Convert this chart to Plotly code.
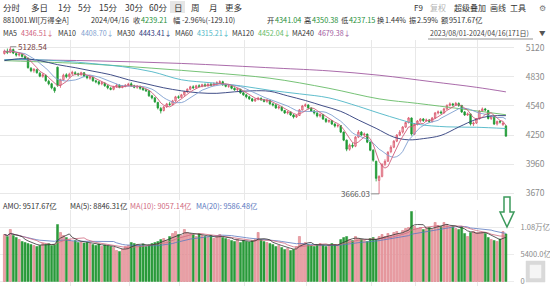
import plotly.graph_objects as go
import pandas as pd

W, H = 550, 286
FONT = "Noto Sans CJK SC"

# ---------------- data ----------------
opens = [
    # Aug 2023
    5060, 5085, 5070, 5100, 5060, 5045, 5050, 5030, 5015, 4915, 4890, 4900, 4865, 4835, 4845, 4785, 4760, 4720, 4925, 4745, 4800, 4850, 4830,
    # Sep
    4860, 4870, 4860, 4850, 4870, 4835, 4815, 4825, 4790, 4780, 4760, 4765, 4740, 4715, 4705, 4730, 4745, 4725, 4735, 4745,
    # Oct
    4760, 4740, 4725, 4735, 4715, 4700, 4690, 4640, 4620, 4575, 4515, 4495, 4530, 4560, 4555, 4590, 4630,
    # Nov
    4625, 4650, 4680, 4705, 4730, 4720, 4740, 4735, 4750, 4740, 4755, 4745, 4760, 4770, 4780, 4750, 4735, 4740, 4715, 4700, 4705, 4670,
    # Dec
    4650, 4630, 4610, 4590, 4605, 4615, 4600, 4585, 4595, 4560, 4550, 4520, 4530, 4495, 4470, 4480, 4450, 4430, 4445, 4500, 4540,
    # Jan 2024
    4550, 4520, 4490, 4470, 4440, 4455, 4410, 4385, 4395, 4360, 4340, 4345, 4280, 4200, 4110, 4150, 4140, 4230, 4280, 4250, 4260, 4180,
    # Feb
    4100, 3990, 3800, 3840, 3960, 3990, 4085, 4130, 4190, 4250, 4280, 4330, 4375, 4420, 4260,
    # Mar
    4360, 4390, 4410, 4395, 4400, 4385, 4420, 4470, 4480, 4470, 4510, 4545, 4560, 4550, 4565, 4545, 4480, 4450, 4460, 4360, 4370,
    # Apr
    4410, 4490, 4510, 4495, 4415, 4440, 4360, 4385, 4355, 4341.04,
]
closes = [
    5085, 5070, 5105, 5065, 5045, 5055, 5030, 5015, 4920, 4890, 4905, 4870, 4835, 4850, 4790, 4760, 4720, 4690, 4745, 4800, 4845, 4830, 4855,
    4875, 4860, 4850, 4870, 4835, 4820, 4830, 4790, 4780, 4760, 4770, 4740, 4720, 4705, 4730, 4745, 4725, 4735, 4745, 4755,
    4740, 4725, 4735, 4715, 4700, 4690, 4640, 4620, 4580, 4520, 4490, 4530, 4560, 4555, 4590, 4630, 4625,
    4650, 4680, 4705, 4730, 4720, 4740, 4735, 4750, 4740, 4755, 4745, 4760, 4770, 4780, 4750, 4735, 4740, 4715, 4700, 4710, 4670, 4650,
    4630, 4610, 4590, 4605, 4615, 4600, 4585, 4595, 4560, 4550, 4520, 4530, 4495, 4470, 4480, 4450, 4430, 4445, 4500, 4540, 4550,
    4520, 4490, 4470, 4440, 4455, 4410, 4385, 4395, 4360, 4340, 4345, 4280, 4200, 4110, 4150, 4140, 4230, 4280, 4250, 4260, 4180, 4100,
    4000, 3820, 3840, 3960, 3990, 4080, 4130, 4190, 4250, 4280, 4330, 4375, 4420, 4260, 4360,
    4390, 4410, 4395, 4400, 4385, 4420, 4470, 4480, 4470, 4510, 4545, 4560, 4550, 4565, 4545, 4480, 4450, 4460, 4360, 4370, 4410,
    4490, 4510, 4500, 4415, 4440, 4360, 4385, 4380, 4368.31, 4239.21,
]
highs = [
    5100, 5110, 5128.54, 5110, 5075, 5070, 5060, 5040, 5020, 4925, 4915, 4910, 4875, 4865, 4850, 4800, 4770, 4730, 4930, 4810, 4860, 4865, 4870,
    4890, 4885, 4870, 4880, 4875, 4845, 4840, 4830, 4800, 4790, 4785, 4775, 4750, 4730, 4740, 4760, 4755, 4745, 4755, 4770,
    4775, 4750, 4745, 4740, 4725, 4710, 4695, 4650, 4625, 4580, 4530, 4540, 4570, 4580, 4600, 4640, 4645,
    4660, 4690, 4715, 4740, 4745, 4750, 4755, 4760, 4765, 4765, 4770, 4775, 4785, 4795, 4790, 4760, 4750, 4745, 4725, 4720, 4710, 4680,
    4660, 4640, 4620, 4615, 4630, 4625, 4610, 4605, 4600, 4570, 4560, 4545, 4535, 4500, 4490, 4485, 4460, 4455, 4510, 4550, 4565,
    4555, 4525, 4500, 4475, 4465, 4460, 4420, 4405, 4400, 4370, 4360, 4350, 4285, 4205, 4165, 4175, 4240, 4300, 4290, 4275, 4265, 4185,
    4110, 3995, 3850, 3970, 4010, 4090, 4150, 4200, 4260, 4300, 4340, 4385, 4430, 4425, 4370,
    4400, 4420, 4420, 4415, 4410, 4430, 4480, 4495, 4495, 4520, 4555, 4575, 4570, 4580, 4575, 4550, 4490, 4475, 4465, 4385, 4420,
    4500, 4525, 4520, 4500, 4450, 4445, 4395, 4400, 4385, 4350.38,
]
lows = [
    5050, 5055, 5065, 5055, 5030, 5030, 5020, 5000, 4910, 4875, 4870, 4860, 4825, 4820, 4780, 4745, 4705, 4670, 4730, 4720, 4790, 4815, 4820,
    4845, 4845, 4835, 4840, 4825, 4805, 4800, 4780, 4765, 4745, 4745, 4730, 4705, 4695, 4695, 4720, 4715, 4715, 4725, 4735,
    4730, 4715, 4710, 4700, 4690, 4680, 4630, 4605, 4570, 4505, 4465, 4485, 4520, 4540, 4545, 4580, 4610,
    4615, 4640, 4670, 4695, 4710, 4710, 4725, 4725, 4730, 4730, 4735, 4740, 4750, 4760, 4740, 4725, 4720, 4705, 4690, 4685, 4660, 4640,
    4615, 4600, 4580, 4580, 4595, 4590, 4575, 4570, 4550, 4535, 4510, 4505, 4485, 4460, 4455, 4440, 4415, 4420, 4440, 4495, 4530,
    4505, 4480, 4455, 4425, 4425, 4400, 4370, 4370, 4350, 4325, 4325, 4270, 4190, 4090, 4095, 4120, 4130, 4220, 4240, 4235, 4170, 4090,
    3985, 3790, 3666.03, 3830, 3940, 3985, 4070, 4120, 4180, 4240, 4265, 4320, 4365, 4245, 4250,
    4345, 4375, 4380, 4380, 4370, 4375, 4410, 4455, 4460, 4465, 4500, 4535, 4535, 4540, 4530, 4470, 4440, 4440, 4345, 4340, 4360,
    4405, 4480, 4485, 4405, 4400, 4350, 4345, 4365, 4340, 4237.15,
]
# turnover, 亿元
volumes = [
    9400, 9000, 10400, 9200, 8800, 8400, 8000, 7800, 7600, 7400, 7200, 7000, 7200, 7600, 7400, 7600, 7200, 7400, 11400, 9800, 9200, 8800, 8400,
    8000, 8200, 7800, 7900, 7700, 7800, 7600, 7400, 7200, 7500, 7000, 7300, 7100, 7000, 6800, 6200, 6000, 6500, 7000, 7200,
    7800, 7600, 7400, 7200, 7500, 7000, 7300, 7600, 7800, 8000, 8400, 8600, 8200, 9000, 9600, 10000, 9400,
    9200, 10400, 9800, 9600, 9400, 9000, 9600, 9200, 9000, 8800, 9200, 8600, 9000, 9400, 8800, 8600, 8400, 8200, 8000, 8400, 7800, 8200,
    8000, 7900, 8200, 8400, 9800, 8400, 8000, 7800, 7600, 7400, 7000, 7200, 6800, 6400, 6600, 6200, 6400, 7000, 9000, 7600, 7800,
    7400, 7200, 7000, 7400, 7600, 7200, 7000, 7300, 7600, 7400, 7200, 8400, 8800, 9000, 8400, 8200, 9000, 8600, 8400, 8200, 8000, 8600,
    8800, 8400, 9000, 9400, 9000, 9600, 9200, 9800, 10000, 9600, 10200, 10600, 10800, 14000, 11000,
    10600, 10800, 10400, 10600, 10800, 10400, 11800, 11200, 11000, 11800, 11400, 10800, 11000, 10600, 10400, 11000, 9600, 9000, 9800, 10000, 9800,
    9800, 9800, 9600, 8800, 8400, 8200, 8000, 8500, 10000, 9517.67,
]
# long moving averages at sample days
ma30_idx = [0, 6, 12, 18, 24, 30, 36, 42, 48, 54, 60, 66, 72, 78, 84, 90, 96, 102, 108, 114, 120, 126, 132, 137, 142, 148, 154, 160, 165, 170]
ma30_val = [4990, 5010, 4990, 4950, 4920, 4885, 4850, 4800, 4760, 4720, 4690, 4670, 4665, 4680, 4690, 4685, 4640, 4594, 4540, 4486, 4400, 4317, 4230, 4203, 4215, 4247, 4330, 4407, 4440, 4443.41]
ma60_idx = [0, 10, 20, 30, 40, 50, 60, 70, 80, 90, 100, 110, 120, 127, 134, 140, 150, 160, 170]
ma60_val = [5000, 5000, 4985, 4960, 4930, 4880, 4800, 4770, 4740, 4695, 4660, 4620, 4535, 4468, 4405, 4358, 4332, 4328, 4315.21]
ma120_idx = [0, 10, 30, 50, 70, 90, 110, 127, 140, 155, 170]
ma120_val = [4990, 4980, 4955, 4915, 4870, 4815, 4715, 4610, 4565, 4510, 4452.04]
ma240_idx = [0, 30, 60, 92, 110, 127, 145, 160, 170]
ma240_val = [5000, 4988, 4962, 4916, 4888, 4845, 4780, 4725, 4679.38]

month_start_idx = [23, 43, 60, 82, 103, 125, 140, 161]
price_ticks = [5120, 4830, 4540, 4250, 3960, 3670]
vol_ticks = [0, 5400, 10800]
vol_tick_text = ["0", "5400.0亿", "1.08万亿"]

n = len(closes)
assert len(opens) == n and len(highs) == n and len(lows) == n and len(volumes) == n
days = list(range(n))

cs = pd.Series(closes)
ma5 = cs.rolling(5, min_periods=1).mean()
ma10 = cs.rolling(10, min_periods=1).mean()
vs = pd.Series(volumes)
vma5 = vs.rolling(5, min_periods=1).mean()
vma10 = vs.rolling(10, min_periods=1).mean()
vma20 = vs.rolling(20, min_periods=1).mean()

UP_LINE = "#d9566b"
UP_FILL = "#f2c3c9"
DN = "#1f9a35"
C_MA5 = "#cf5f7d"
C_MA10 = "#7f9fd0"
C_MA30 = "#2c3b7a"
C_MA60 = "#4db6c6"
C_MA120 = "#66bb66"
C_MA240 = "#a05aa0"

fig = go.Figure()

for idx, val, col in [(ma240_idx, ma240_val, C_MA240), (ma120_idx, ma120_val, C_MA120),
                      (ma60_idx, ma60_val, C_MA60), (ma30_idx, ma30_val, C_MA30)]:
    fig.add_trace(go.Scatter(x=idx, y=val, mode="lines", line=dict(color=col, width=0.9, shape="spline", smoothing=1.0),
                             xaxis="x", yaxis="y", hoverinfo="skip", showlegend=False))
fig.add_trace(go.Scatter(x=days, y=ma10, mode="lines", line=dict(color=C_MA10, width=0.9), xaxis="x", yaxis="y", showlegend=False))
fig.add_trace(go.Scatter(x=days, y=ma5, mode="lines", line=dict(color=C_MA5, width=0.9), xaxis="x", yaxis="y", showlegend=False))

fig.add_trace(go.Candlestick(
    x=days, open=opens, high=highs, low=lows, close=closes,
    increasing=dict(line=dict(color=UP_LINE, width=0.8), fillcolor=UP_FILL),
    decreasing=dict(line=dict(color=DN, width=0.8), fillcolor=DN),
    whiskerwidth=0, xaxis="x", yaxis="y", showlegend=False))

vcolors = ["#eaa3a8" if c >= o else "#2a9a3a" for o, c in zip(opens, closes)]
vlines = ["#d9707a" if c >= o else "#2a9a3a" for o, c in zip(opens, closes)]
fig.add_trace(go.Bar(x=days, y=volumes, marker=dict(color=vcolors, line=dict(color=vlines, width=0.5)),
                     xaxis="x2", yaxis="y2", showlegend=False))
fig.add_trace(go.Scatter(x=days, y=vma20, mode="lines", line=dict(color="#5a78c0", width=0.8), xaxis="x2", yaxis="y2", showlegend=False))
fig.add_trace(go.Scatter(x=days, y=vma10, mode="lines", line=dict(color="#d06a80", width=0.8), xaxis="x2", yaxis="y2", showlegend=False))
fig.add_trace(go.Scatter(x=days, y=vma5, mode="lines", line=dict(color="#333333", width=0.8), xaxis="x2", yaxis="y2", showlegend=False))

PLOT_R = 514
px_per_day = 2.95
x0 = -1.5
xrange = [x0, x0 + PLOT_R / px_per_day]
grid_x = [m - 0.5 for m in month_start_idx]

def xf(x):
    # pixel -> paper x (paper spans the plot area 0..PLOT_R)
    return x / PLOT_R

def yfrac(y):
    return 1 - y / H

xcommon = dict(range=xrange, domain=[0, 1], showticklabels=False, ticks="", tickvals=grid_x,
               showgrid=True, gridcolor="#e8e8e8", gridwidth=1, zeroline=False, showline=False, fixedrange=True,
               automargin=False)

fig.update_layout(
    width=W, height=H, margin=dict(l=0, r=W - PLOT_R, t=0, b=0, autoexpand=False),
    paper_bgcolor="white", plot_bgcolor="white",
    font=dict(family=FONT, size=8, color="#333"),
    xaxis=dict(**xcommon, anchor="y", rangeslider=dict(visible=False)),
    xaxis2=dict(**xcommon, anchor="y2", matches="x"),
    yaxis=dict(domain=[yfrac(200), yfrac(40)], range=[3605, 5195], side="right", tickvals=price_ticks,
               ticks="outside", ticklen=9, tickcolor="rgba(0,0,0,0)", automargin=False,
               tickfont=dict(size=8.5, color="#8a8a8a", family=FONT), showgrid=True, gridcolor="#e8e8e8",
               zeroline=False, showline=False, anchor="x"),
    yaxis2=dict(domain=[0, yfrac(210)], range=[-900, 14300], side="right", tickvals=vol_ticks, ticktext=vol_tick_text,
                ticks="outside", ticklen=4, tickcolor="rgba(0,0,0,0)", automargin=False, ticklabeloverflow="allow",
                tickfont=dict(size=7.5, color="#8a8a8a", family=FONT), showgrid=True, gridcolor="#ececec",
                zeroline=False, showline=False, anchor="x2"),
    bargap=0.3,
)

anns = []
def ann(text, x, y, color="#333", size=8):
    anns.append(dict(text=text, x=xf(x), y=yfrac(y), xref="paper", yref="paper", xanchor="left", yanchor="middle",
                     showarrow=False, font=dict(size=size, color=color, family=FONT)))

# toolbar row
for t, x in [("分时", 1), ("多日", 29), ("1分", 56), ("5分", 76), ("15分", 97), ("30分", 123), ("60分", 147),
             ("日", 172), ("周", 189), ("月", 207), ("更多", 223)]:
    ann(t, x, 7, "#333", 8.5)
for t, x, c in [("F9", 412, "#333"), ("复权", 428, "#b5b5b5"), ("超级叠加", 452, "#333"), ("画线", 488, "#333"),
                ("工具", 508, "#333"), ("⚙", 537, "#777")]:
    ann(t, x, 7, c, 8)

GREEN_T = "#1f8f3a"
RS = 7.3
for t, x, c in [("881001.WI[万得全A]", 1, "#333"), ("2024/04/16", 89, "#333"), ("收", 131, "#333"), ("4239.21", 139, GREEN_T),
                ("幅", 171, "#333"), ("-2.96%(-129.10)", 180, "#333"), ("开", 265, "#333"), ("4341.04", 273, GREEN_T),
                ("高", 302, "#333"), ("4350.38", 310, GREEN_T), ("低", 339, "#333"), ("4237.15", 347, GREEN_T),
                ("换", 375, "#333"), ("1.44%", 383, "#333"), ("振", 407, "#333"), ("2.59%", 415, "#333"),
                ("额", 439, "#333"), ("9517.67亿", 447, "#333")]:
    ann(t, x, 20, c, RS)

for t, x, c in [("MA5", 1, "#333"), ("4346.51↓", 19, C_MA5), ("MA10", 56, "#333"), ("4408.70↓", 79, C_MA10),
                ("MA30", 115, "#333"), ("4443.41↓", 137, C_MA30), ("MA60", 173, "#333"), ("4315.21↓", 195, C_MA60),
                ("MA120", 230, "#333"), ("4452.04↓", 256, C_MA120), ("MA240", 290, "#333"), ("4679.38↓", 316, C_MA240)]:
    ann(t, x, 33, c, 7.1)
ann("2023/08/01-2024/04/16(171日)", 428, 33, "#444", 7)
ann("▼", 537, 33, "#555", 6.5)

for t, x, c in [("AMO: 9517.67亿", 1, "#333"), ("MA(5): 8846.31亿", 68, "#333"),
                ("MA(10): 9057.14亿", 128, "#d06a80"), ("MA(20): 9586.48亿", 194, "#5a78c0")]:
    ann(t, x, 205, c, 7.4)

hi_i = highs.index(max(highs))
lo_i = lows.index(min(lows))
anns.append(dict(text=f"{max(highs):.2f}", x=hi_i, y=max(highs), xref="x", yref="y", showarrow=True, arrowhead=0,
                 arrowwidth=0.8, arrowcolor="#777", ax=22, ay=0, font=dict(size=8, color="#7a4545", family=FONT)))
anns.append(dict(text=f"{min(lows):.2f}", x=lo_i, y=min(lows), xref="x", yref="y", showarrow=True, arrowhead=0,
                 arrowwidth=0.8, arrowcolor="#777", ax=-24, ay=0, font=dict(size=8, color="#555", family=FONT)))
fig.update_layout(annotations=anns)

def P(x, y):
    return f"{xf(x):.5f},{yfrac(y):.5f}"

shapes = [
    dict(type="rect", xref="paper", yref="paper", x0=xf(170), x1=xf(185), y0=yfrac(13), y1=yfrac(1),
         fillcolor="#e6e6e6", line=dict(width=0), layer="below"),
    dict(type="line", xref="paper", yref="paper", x0=xf(428), x1=xf(533), y0=yfrac(39), y1=yfrac(39),
         line=dict(color="#666", width=0.7)),
    dict(type="path", xref="paper", yref="paper",
         path="M " + " L ".join([P(504, 197), P(510, 197), P(510, 212), P(514, 212), P(507, 227), P(500, 212), P(504, 212)]) + " Z",
         line=dict(color="#3c9a5c", width=1.5), fillcolor="white"),
    dict(type="path", xref="paper", yref="paper",
         path="M " + " L ".join([P(526, 261), P(545, 261), P(545, 282), P(526, 282)]) + " Z",
         fillcolor="#d9d9d9", line=dict(color="#d9d9d9", width=0.5)),
    dict(type="path", xref="paper", yref="paper",
         path="M " + " L ".join([P(530, 265), P(541, 265), P(541, 278), P(530, 278)]) + " Z",
         fillcolor="#f5f5f5", line=dict(color="#f5f5f5", width=0.5)),
]
fig.update_layout(shapes=shapes)

fig.write_html("out.html")
